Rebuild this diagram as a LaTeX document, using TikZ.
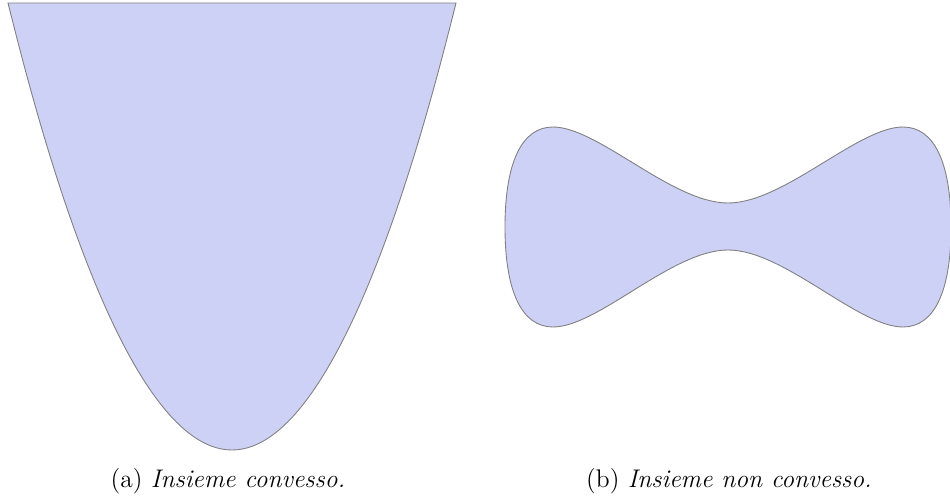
\documentclass[tikz,border=0pt]{standalone}
\usepackage{tikz}
\usetikzlibrary{positioning}
\definecolor{setfill}{RGB}{204,209,245}

\begin{document}
\begin{tikzpicture}[x=0.02cm,y=-0.02cm,
	insieme/.style={fill=setfill,draw=gray,line width=0.5pt},
	didascalia/.style={font=\fontsize{14.5}{17}\selectfont,inner sep=0pt}]
	
	\useasboundingbox (0,0) rectangle (950,503);
	
	% insieme convesso
	\draw[insieme] (8,3) parabola bend (232,450) (456,3) -- cycle;
	
	% insieme non convesso
	\draw[insieme] (505,227)
	.. controls (505,162) and (522,127) .. (553,127)
	.. controls (598,127) and (672,203) .. (728,203)
	.. controls (784,203) and (858,127) .. (903,127)
	.. controls (934,127) and (951,162) .. (951,227)
	.. controls (951,292) and (934,327) .. (903,327)
	.. controls (858,327) and (784,250) .. (728,250)
	.. controls (672,250) and (598,327) .. (553,327)
	.. controls (522,327) and (505,292) .. (505,227) -- cycle;
	
	\node[didascalia] (capa) at (228,481) {(a) \textit{Insieme convesso.}};
	\node[didascalia] (capb) at (729,481) {(b) \textit{Insieme non convesso.}};
	
\end{tikzpicture}
\end{document}
